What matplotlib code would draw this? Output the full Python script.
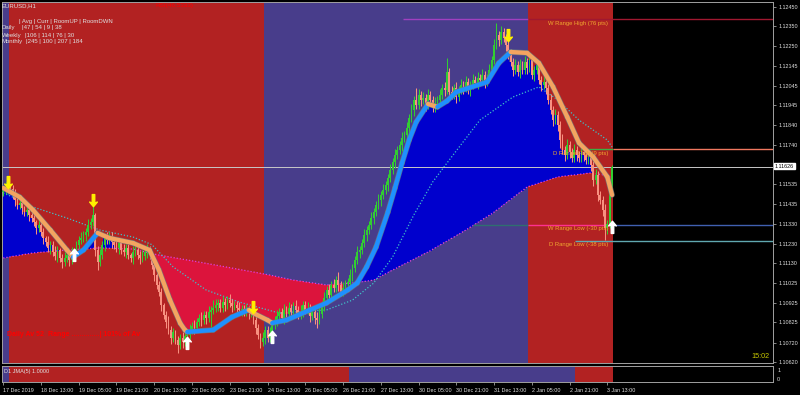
import numpy as np
import matplotlib
matplotlib.use("Agg")
import matplotlib.pyplot as plt
from matplotlib.collections import LineCollection
from matplotlib.path import Path

plt.rcParams['font.family'] = ['Liberation Sans', 'DejaVu Sans']

# EURUSD H1, bar 0 = 17 Dec 2019 21:00, last bar = 3 Jan 2020 15:00
first_open = 1.11497
close = [
    1.11507, 1.11517, 1.11527, 1.11512, 1.11481, 1.11455, 1.11429, 1.11439, 1.11414, 1.11393,
    1.11404, 1.11378, 1.11362, 1.11342, 1.11311, 1.11326, 1.11290, 1.11259, 1.11239, 1.11208,
    1.11223, 1.11187, 1.11166, 1.11197, 1.11156, 1.11135, 1.11156, 1.11171, 1.11146, 1.11182,
    1.11197, 1.11223, 1.11249, 1.11259, 1.11275, 1.11290, 1.11326, 1.11342, 1.11378, 1.11197,
    1.11135, 1.11171, 1.11223, 1.11259, 1.11249, 1.11269, 1.11239, 1.11223, 1.11208, 1.11233,
    1.11197, 1.11187, 1.11208, 1.11171, 1.11156, 1.11187, 1.11197, 1.11171, 1.11156, 1.11166,
    1.11187, 1.11208, 1.11171, 1.11120, 1.11068, 1.11017, 1.10981, 1.10914, 1.10862, 1.10826,
    1.10785, 1.10744, 1.10775, 1.10733, 1.10708, 1.10744, 1.10723, 1.10754, 1.10759, 1.10785,
    1.10805, 1.10795, 1.10826, 1.10847, 1.10836, 1.10862, 1.10847, 1.10878, 1.10888, 1.10898,
    1.10914, 1.10924, 1.10898, 1.10929, 1.10914, 1.10939, 1.10924, 1.10909, 1.10914, 1.10898,
    1.10888, 1.10893, 1.10878, 1.10888, 1.10872, 1.10878, 1.10836, 1.10795, 1.10759, 1.10723,
    1.10744, 1.10785, 1.10744, 1.10769, 1.10811, 1.10836, 1.10857, 1.10878, 1.10847, 1.10888,
    1.10867, 1.10898, 1.10878, 1.10909, 1.10888, 1.10862, 1.10883, 1.10914, 1.10888, 1.10898,
    1.10857, 1.10878, 1.10847, 1.10836, 1.10867, 1.10914, 1.10950, 1.10991, 1.10965, 1.11017,
    1.11001, 1.11042, 1.11017, 1.10981, 1.11001, 1.11022, 1.11032, 1.11068, 1.11104, 1.11146,
    1.11187, 1.11197, 1.11233, 1.11275, 1.11300, 1.11326, 1.11362, 1.11393, 1.11429, 1.11455,
    1.11481, 1.11507, 1.11532, 1.11568, 1.11610, 1.11651, 1.11687, 1.11713, 1.11739, 1.11775,
    1.11790, 1.11826, 1.11878, 1.11919, 1.11971, 1.11945, 1.11996, 1.11971, 1.11981, 1.11945,
    1.11996, 1.11971, 1.11929, 1.11955, 1.11971, 1.11996, 1.12032, 1.12022, 1.12115, 1.12012,
    1.11996, 1.12032, 1.11986, 1.12022, 1.12048, 1.12032, 1.12063, 1.12022, 1.12048, 1.12074,
    1.12058, 1.12084, 1.12074, 1.12099, 1.12063, 1.12084, 1.12125, 1.12177, 1.12254, 1.12306,
    1.12280, 1.12321, 1.12290, 1.12254, 1.12202, 1.12166, 1.12125, 1.12151, 1.12115, 1.12151,
    1.12125, 1.12166, 1.12135, 1.12177, 1.12099, 1.12125, 1.12151, 1.12074, 1.12048, 1.12063,
    1.12032, 1.11971, 1.11919, 1.11867, 1.11893, 1.11842, 1.11764, 1.11713, 1.11687, 1.11739,
    1.11702, 1.11671, 1.11713, 1.11687, 1.11671, 1.11702, 1.11687, 1.11661, 1.11677, 1.11635,
    1.11558, 1.11584, 1.11481, 1.11455, 1.11404, 1.11311, 1.11331, 1.11496, 1.11626,
]
# wick lengths in pips beyond the candle body
wick_hi = [
    2, 3, 2, 1, 2, 3, 2, 4, 2, 1, 3, 2, 2, 3, 1, 3, 2, 2, 1, 3,
    2, 2, 3, 2, 1, 2, 3, 2, 2, 3, 1, 2, 2, 3, 2, 2, 3, 2, 6, 1,
    2, 3, 2, 2, 3, 2, 2, 1, 3, 2, 2, 3, 2, 2, 1, 3, 2, 2, 2, 3,
    2, 2, 1, 2, 2, 1, 2, 2, 1, 2, 3, 2, 2, 1, 2, 2, 3, 2, 2, 3,
    2, 3, 2, 2, 3, 2, 2, 3, 2, 4, 3, 2, 2, 3, 2, 2, 3, 2, 2, 2,
    3, 2, 2, 3, 2, 2, 1, 2, 2, 1, 3, 2, 2, 3, 2, 2, 3, 2, 2, 3,
    2, 3, 2, 2, 3, 2, 3, 2, 2, 3, 2, 2, 2, 3, 3, 2, 3, 2, 3, 2,
    3, 2, 4, 2, 3, 2, 2, 3, 2, 2, 3, 2, 2, 3, 2, 2, 3, 2, 2, 3,
    2, 3, 2, 2, 3, 2, 3, 2, 2, 3, 2, 3, 2, 3, 2, 6, 3, 2, 3, 2,
    3, 2, 2, 3, 2, 3, 2, 3, 7, 2, 3, 2, 3, 2, 3, 2, 3, 2, 2, 3,
    2, 3, 2, 3, 2, 2, 3, 2, 3, 6, 2, 3, 2, 2, 2, 3, 2, 3, 2, 3,
    2, 3, 2, 3, 2, 2, 3, 2, 2, 3, 2, 2, 3, 2, 3, 2, 2, 3, 2, 3,
    2, 2, 3, 2, 2, 3, 2, 2, 3, 2, 2, 3, 2, 2, 2, 3, 2, 2, 1,
]
wick_lo = [
    2, 2, 3, 2, 2, 3, 2, 2, 3, 2, 2, 3, 2, 2, 3, 2, 2, 3, 2, 2,
    3, 2, 2, 3, 2, 3, 2, 2, 3, 2, 2, 3, 2, 2, 2, 3, 2, 2, 2, 3,
    4, 2, 2, 3, 2, 2, 3, 2, 2, 3, 2, 2, 3, 2, 2, 3, 2, 2, 3, 2,
    2, 3, 2, 2, 3, 2, 2, 3, 2, 3, 2, 3, 2, 2, 4, 2, 3, 2, 2, 2,
    2, 3, 2, 2, 3, 2, 3, 2, 8, 2, 2, 3, 2, 2, 3, 2, 2, 3, 2, 2,
    2, 3, 2, 2, 3, 2, 2, 3, 2, 3, 2, 3, 2, 2, 2, 2, 3, 2, 2, 3,
    2, 3, 2, 2, 3, 2, 2, 3, 2, 2, 3, 2, 3, 4, 2, 2, 3, 2, 2, 3,
    2, 2, 3, 2, 2, 3, 2, 2, 3, 2, 2, 3, 2, 2, 3, 2, 2, 3, 2, 2,
    3, 2, 2, 3, 2, 2, 3, 2, 2, 3, 2, 2, 3, 2, 3, 2, 2, 3, 2, 3,
    2, 3, 2, 2, 3, 2, 2, 3, 2, 3, 2, 2, 3, 2, 2, 3, 2, 2, 3, 2,
    2, 3, 2, 2, 3, 2, 2, 3, 2, 2, 3, 2, 2, 3, 2, 2, 3, 2, 2, 3,
    2, 2, 3, 2, 2, 3, 2, 2, 3, 2, 3, 2, 2, 3, 2, 3, 4, 2, 3, 2,
    3, 2, 2, 3, 2, 2, 3, 2, 2, 3, 3, 2, 3, 2, 3, 6, 3, 2, 2,
]

# thick JMA line (read at these bars)
fast_bar = [0, 7, 12.6, 20, 27, 29.6, 34, 40, 45, 55, 62, 66, 70.7, 75, 77, 78, 89, 97, 104,
            106, 112, 114, 120, 130, 137, 146, 150, 154, 158, 163, 166, 169, 172, 175, 180,
            184, 188, 192, 205, 210, 215, 222, 227, 233, 239, 244, 250, 256, 258]
fast_price = [1.11517, 1.11470, 1.11404, 1.11300, 1.11197, 1.11161, 1.11197, 1.11285, 1.11259,
              1.11233, 1.11197, 1.11094, 1.10939, 1.10820, 1.10785, 1.10775, 1.10785, 1.10852,
              1.10888, 1.10872, 1.10836, 1.10821, 1.10836, 1.10888, 1.10924, 1.10991, 1.11027,
              1.11110, 1.11213, 1.11393, 1.11517, 1.11646, 1.11764, 1.11857, 1.11950, 1.11935,
              1.11965, 1.12012, 1.12063, 1.12161, 1.12218, 1.12213, 1.12161, 1.12038, 1.11883,
              1.11749, 1.11677, 1.11574, 1.11481]
# teal dotted average
mid_bar = [0, 7, 12.6, 27, 41, 55, 63, 72, 86, 100, 117, 126, 137, 148, 157, 165, 174, 182,
           189, 202, 216, 227, 235, 244, 256, 258]
mid_price = [1.11491, 1.11455, 1.11419, 1.11362, 1.11300, 1.11264, 1.11225, 1.11110, 1.10991,
             1.10929, 1.10872, 1.10880, 1.10888, 1.10939, 1.11027, 1.11161, 1.11378, 1.11548,
             1.11661, 1.11867, 1.11986, 1.12038, 1.11971, 1.11867, 1.11764, 1.11728]
# magenta dotted slow average
slow_bar = [0, 12.6, 27, 41, 55, 66, 83, 97, 113, 123, 137, 148, 157, 165, 180, 194, 207.5,
            222, 235, 248.6, 258]
slow_price = [1.11156, 1.11182, 1.11197, 1.11208, 1.11202, 1.11171, 1.11135, 1.11104, 1.11068,
              1.11042, 1.11017, 1.11027, 1.11042, 1.11094, 1.11187, 1.11285, 1.11388, 1.11522,
              1.11574, 1.11594, 1.11579]

# signal arrows (bar, price)
sell_bar = [2, 38, 106, 214]
sell_price = [1.11548, 1.11455, 1.10904, 1.12305]
buy_bar = [30, 78, 114, 258]
buy_price = [1.11171, 1.10718, 1.10749, 1.11316]

# trend state backgrounds: H1 panel and D1 JMA panel
bg_edges = [0, 3, 111, 223, 259]
bg_state = ['up', 'dn', 'up', 'dn']
d1_edges = [0, 3, 147, 243, 259]
d1_state = ['up', 'dn', 'up', 'dn']

bid = 1.11626
w_high, d_high, w_low, d_low = 1.12386, 1.11716, 1.11326, 1.11246
level_labels = ['W Range High (76 pts)', 'D Range High (9 pts)', 'W Range Low (-30 pts)',
                'D Range Low (-38 pts)']

yticks = [1.12450, 1.12350, 1.12250, 1.12145, 1.12045, 1.11945, 1.11840, 1.11740, 1.11535,
          1.11435, 1.11330, 1.11230, 1.11130, 1.11025, 1.10925, 1.10825, 1.10720, 1.10620]
xtick_bars = list(range(0, 257, 16))
xtick_labels = ['17 Dec 2019', '18 Dec 13:00', '19 Dec 05:00', '19 Dec 21:00', '20 Dec 13:00',
                '23 Dec 05:00', '23 Dec 21:00', '24 Dec 13:00', '26 Dec 05:00', '26 Dec 21:00',
                '27 Dec 13:00', '30 Dec 05:00', '30 Dec 21:00', '31 Dec 13:00', '2 Jan 05:00',
                '2 Jan 21:00', '3 Jan 13:00']

# colours
RED_BG = '#B22222'
BLUE_BG = '#483D8B'
state_col = {'up': BLUE_BG, 'dn': RED_BG}
TXT = '#E0E0E0'
LBL = '#F0A830'

W, H = 800, 395
fig = plt.figure(figsize=(W / 100, H / 100), dpi=100, facecolor='black')

def fx(px):
    return px / W

def fy(py):
    return 1 - py / H

ax = fig.add_axes([fx(2), fy(363), fx(773) - fx(2), fy(2) - fy(363)], facecolor='black')
axi = fig.add_axes([fx(2), fy(382), fx(773) - fx(2), fy(366) - fy(382)], facecolor='black')

XL, XR = -0.51, 326.2
for a in (ax, axi):
    a.set_xlim(XL, XR)
    for s in a.spines.values():
        s.set_color('#A0A0A0')
        s.set_linewidth(0.7)
ax.set_ylim(1.106147, 1.124757)
axi.set_ylim(0, 1)

n = len(close)
x = np.arange(n)
c = np.array(close)
o = np.r_[first_open, c[:-1]]
hi = np.maximum(o, c) + np.array(wick_hi) * 1e-4
lo = np.minimum(o, c) - np.array(wick_lo) * 1e-4

# backgrounds
for i in range(len(bg_state)):
    ax.axvspan(bg_edges[i] - 0.5, bg_edges[i + 1] - 0.5, color=state_col[bg_state[i]], lw=0, zorder=0)
for i in range(len(d1_state)):
    axi.axvspan(d1_edges[i] - 0.5, d1_edges[i + 1] - 0.5, color=state_col[d1_state[i]], lw=0, zorder=0)

# cloud between slow average and price/JMA
fast_i = np.interp(x, fast_bar, fast_price)
slow_i = np.interp(x, slow_bar, slow_price)
up = fast_i >= slow_i
edge = np.where(up, np.maximum(slow_i, np.minimum(c, fast_i)),
                np.minimum(slow_i, np.maximum(c, fast_i)))
ax.fill_between(x, slow_i, edge, where=up, step='mid', color='#0000CD', lw=0, zorder=1)
ax.fill_between(x, slow_i, edge, where=~up, step='mid', color='#DC143C', lw=0, zorder=1)

# dotted averages
ax.plot(slow_bar, slow_price, color='#E040E0', lw=0.9, ls=(0, (1, 1.5)), zorder=2)
ax.plot(mid_bar, mid_price, color='#40C0C8', lw=0.9, ls=(0, (1, 1.5)), zorder=2)

# level lines
ax.axhline(bid, color='#C8C8C8', lw=0.7, zorder=2.5)
ax.hlines(w_high, 169.5, 222.5, color='#A040C0', lw=1.0, zorder=2.5)
ax.hlines(w_high, 222.5, XR, color='#A01830', lw=1.0, zorder=2.5)
ax.hlines(d_high, 248, 258.5, color='#3CB043', lw=1.0, zorder=2.5)
ax.hlines(d_high, 258.5, XR, color='#F07860', lw=1.0, zorder=2.5)
ax.hlines(w_low, 199, 222.5, color='#2F6F70', lw=1.0, zorder=2.5)
ax.hlines(w_low, 222.5, 258.5, color='#FF3090', lw=1.0, zorder=2.5)
ax.hlines(w_low, 258.5, XR, color='#4060B0', lw=1.0, zorder=2.5)
ax.hlines(d_low, 242.3, XR, color='#60A8B0', lw=1.0, zorder=2.5)
for lev, lab in zip([w_high, d_high, w_low, d_low], level_labels):
    ax.text(256.3, lev - 0.00006, lab, color=LBL, fontsize=4.2, ha='right', va='top', zorder=6)

# candles
cols = np.where(c >= o, '#32CD32', '#F89080')
ax.vlines(x, lo, hi, colors=cols, lw=0.75, zorder=3)
ax.bar(x, np.maximum(np.abs(c - o), 0.00003), bottom=np.minimum(o, c), width=0.72,
       color=cols, lw=0, zorder=3)

# thick JMA line, blue rising / orange falling
pts = np.column_stack([fast_bar, fast_price])
segs = np.stack([pts[:-1], pts[1:]], axis=1)
seg_cols = ['#1E90FF' if b[1] >= a[1] else '#F4A460' for a, b in zip(pts[:-1], pts[1:])]
ax.add_collection(LineCollection(segs, colors='#6A7A80', linewidths=4.0, capstyle='round',
                                 joinstyle='round', alpha=0.8, zorder=4))
ax.add_collection(LineCollection(segs, colors=seg_cols, linewidths=3.1, capstyle='round',
                                 joinstyle='round', zorder=4))

# arrows
arrow_up = Path([(0, 1), (0.62, 0.25), (0.2, 0.4), (0.2, -0.95), (-0.2, -0.95), (-0.2, 0.4),
                 (-0.62, 0.25), (0, 1)], closed=True)
arrow_dn = Path([(vx, -vy) for vx, vy in arrow_up.vertices], closed=True)
ax.plot(sell_bar, sell_price, ls='none', marker=arrow_dn, ms=9, color='#FFF000', mec='#FFF000', zorder=5)
ax.plot(buy_bar, buy_price, ls='none', marker=arrow_up, ms=9, color='white', mec='white', zorder=5)

# axes ticks
ax.set_xticks([])
ax.yaxis.tick_right()
ax.set_yticks(yticks)
ax.set_yticklabels(['%.5f' % v for v in yticks])
ax.tick_params(axis='y', colors='#A0A0A0', labelcolor=TXT, labelsize=3.9, length=2.5, width=0.6, pad=1.5)
axi.yaxis.tick_right()
axi.set_yticks([0.2, 0.75])
axi.set_yticklabels(['0', '1'])
axi.tick_params(axis='y', colors='#A0A0A0', labelcolor=TXT, labelsize=3.9, length=0, pad=3)
axi.set_xticks(xtick_bars)
axi.set_xticklabels(xtick_labels, ha='left')
axi.tick_params(axis='x', colors='#A0A0A0', labelcolor=TXT, labelsize=3.9, length=2.5, width=0.6, pad=1.5)

# current price box
fig.text(fx(775), fy(166), '%.5f' % bid, fontsize=3.9, color='black', ha='left', va='center',
         bbox=dict(boxstyle='square,pad=0.15', fc='white', ec='white'))

# text overlays
fig.text(fx(2), fy(6), 'EURUSD,H1', color=TXT, fontsize=4.3, va='center')
fig.text(fx(155), fy(6), 'RSI(46.5333)', color='#FF0000', fontsize=4.6, va='center')
fig.text(fx(19), fy(21), '| Avg | Curr | RoomUP | RoomDWN', color=TXT, fontsize=4.3, va='center')
rows = [('Daily', '|47 | 54 | 9 | 38', 22), ('Weekly', '|106 | 114 | 76 | 30', 25),
        ('Monthly', '|245 | 100 | 207 | 184', 26)]
for k, (name, vals, xp) in enumerate(rows):
    fig.text(fx(2), fy(28 + 7 * k), name, color=TXT, fontsize=4.3, va='center')
    fig.text(fx(xp), fy(28 + 7 * k), vals, color=TXT, fontsize=4.3, va='center')
fig.text(fx(7), fy(334), 'Daily Av 52  Range ..............| 101% of Av', color='#FF0000',
         fontsize=5.0, fontweight='bold', va='center')
fig.text(fx(770), fy(357), '15:02', color='#C8C800', fontsize=5.2, ha='right', va='center')
fig.text(fx(4), fy(371), 'D1 JMA(5) 1.0000', color=TXT, fontsize=4.0, va='center')

fig.savefig('out.png', dpi=100, facecolor='black')
